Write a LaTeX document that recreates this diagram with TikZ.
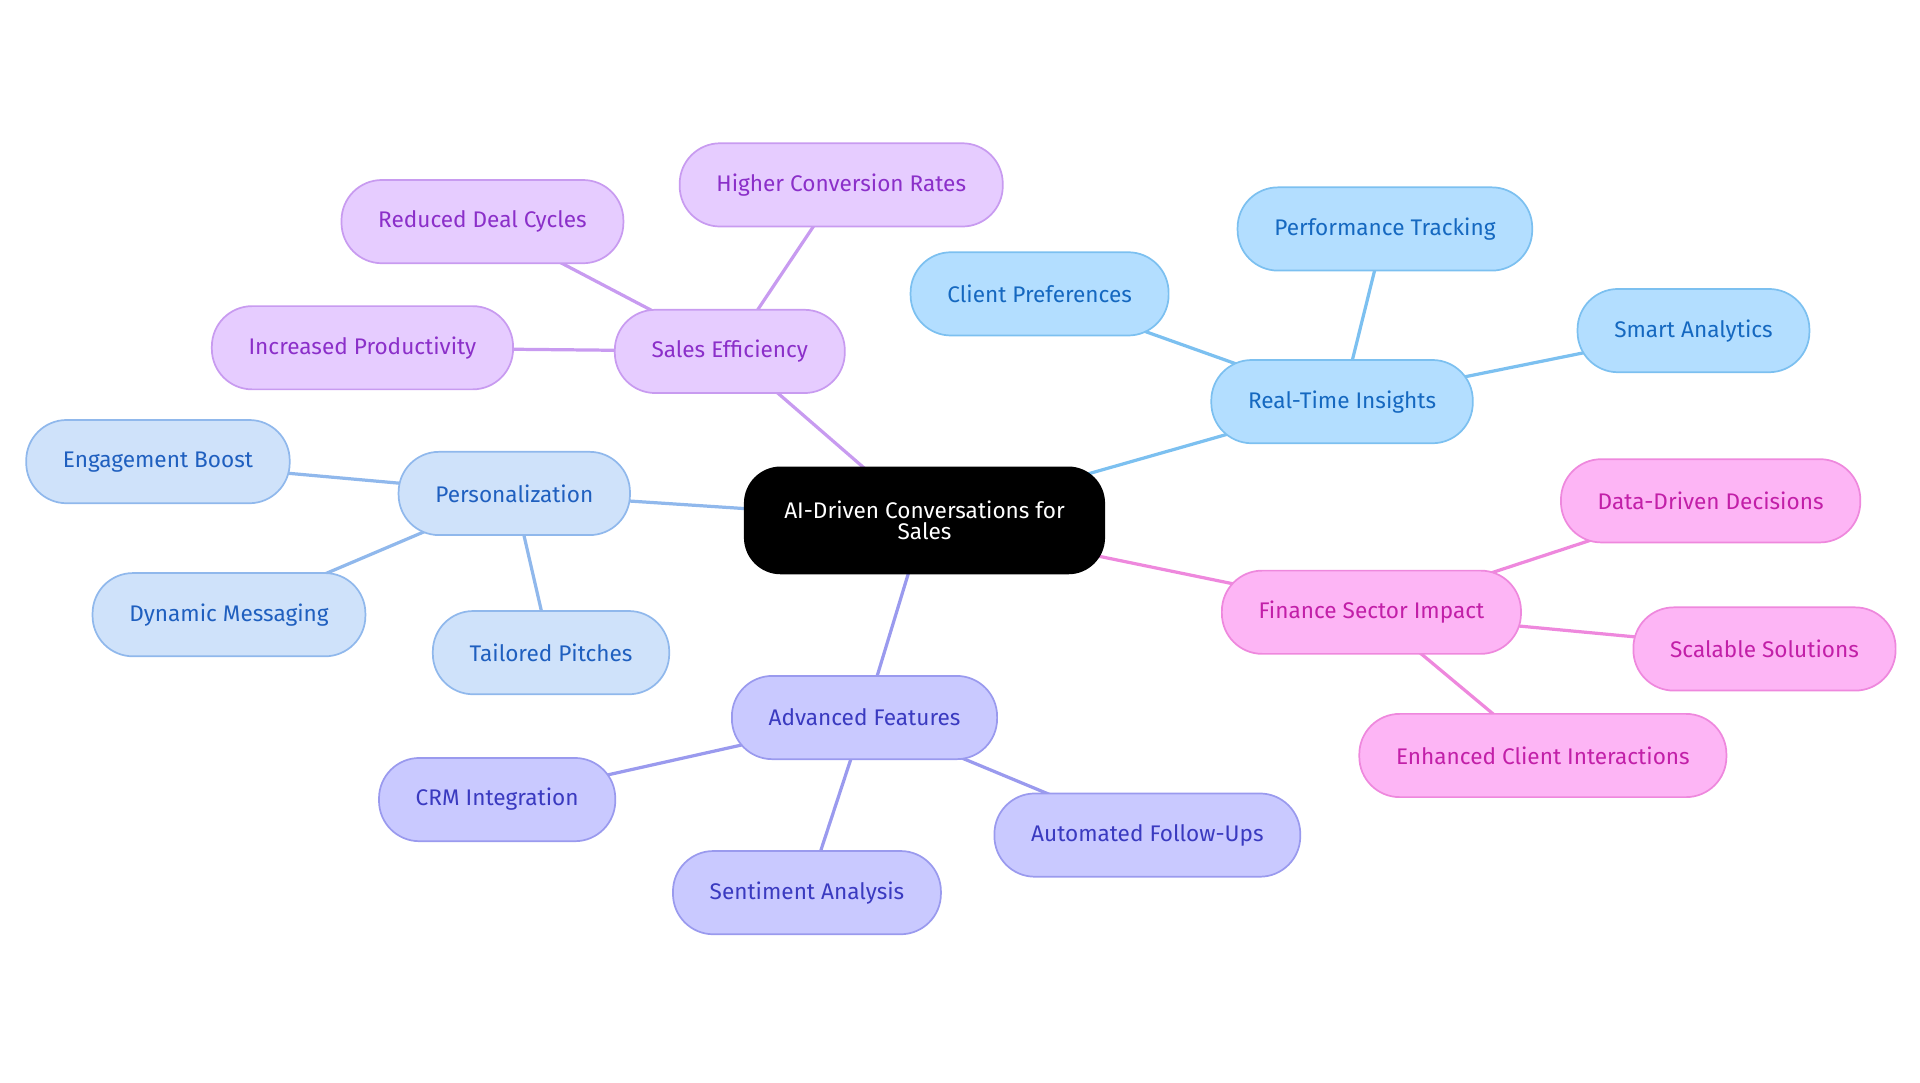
\documentclass[tikz,border=0pt]{standalone}
\usepackage{fontspec}
\setmainfont{Fira Sans}
\usetikzlibrary{backgrounds}
\definecolor{pF}{HTML}{E6CCFF}\definecolor{pD}{HTML}{C89BF0}\definecolor{pT}{HTML}{8B2FC9}
\definecolor{bF}{HTML}{B3DEFF}\definecolor{bD}{HTML}{7CC0F0}\definecolor{bT}{HTML}{1568C0}
\definecolor{lF}{HTML}{CFE2FA}\definecolor{lD}{HTML}{90B8EC}\definecolor{lT}{HTML}{1F5FBF}
\definecolor{vF}{HTML}{C9C9FF}\definecolor{vD}{HTML}{9A9AEE}\definecolor{vT}{HTML}{3A3AC0}
\definecolor{mF}{HTML}{FDB5F5}\definecolor{mD}{HTML}{EE88DD}\definecolor{mT}{HTML}{C21FA8}
\tikzset{
 box/.style={rounded corners=0.66cm,minimum height=1.36cm,inner xsep=0.6cm,font=\fontsize{10.5}{12}\selectfont,line width=0.8pt},
 pur/.style={box,fill=pF,draw=pD,text=pT},
 blu/.style={box,fill=bF,draw=bD,text=bT},
 lbl/.style={box,fill=lF,draw=lD,text=lT},
 vio/.style={box,fill=vF,draw=vD,text=vT},
 mag/.style={box,fill=mF,draw=mD,text=mT},
 ln/.style={line width=1.5pt}
}
\begin{document}
\begin{tikzpicture}[x=0.02cm,y=-0.02cm]
\useasboundingbox (0,0) rectangle (1568,884);
\node[box,fill=black!90!blue!50!black,fill=black,text=white,align=center,minimum width=5.9cm,minimum height=1.76cm,rounded corners=0.6cm] (c) at (755,425) {AI-Driven Conversations for\\[-2pt]Sales};
\node[pur] (se) at (596,287) {Sales Efficiency};
\node[pur] (hc) at (687,151) {Higher Conversion Rates};
\node[pur] (rd) at (394,181) {Reduced Deal Cycles};
\node[pur] (ip) at (296,284) {Increased Productivity};
\node[blu] (rt) at (1096,328) {Real-Time Insights};
\node[blu] (cp) at (849,240) {Client Preferences};
\node[blu] (pt) at (1131,187) {Performance Tracking};
\node[blu] (sa) at (1383,270) {Smart Analytics};
\node[lbl] (pe) at (420,403) {Personalization};
\node[lbl] (eb) at (129,377) {Engagement Boost};
\node[lbl] (dm) at (187,502) {Dynamic Messaging};
\node[lbl] (tp) at (450,533) {Tailored Pitches};
\node[vio] (af) at (706,586) {Advanced Features};
\node[vio] (crm) at (406,653) {CRM Integration};
\node[vio] (sn) at (659,729) {Sentiment Analysis};
\node[vio] (au) at (937,682) {Automated Follow-Ups};
\node[mag] (fs) at (1120,500) {Finance Sector Impact};
\node[mag] (dd) at (1397,409) {Data-Driven Decisions};
\node[mag] (ss) at (1441,530) {Scalable Solutions};
\node[mag] (ec) at (1260,617) {Enhanced Client Interactions};
\begin{scope}[on background layer]
\draw[ln,pD] (c.center)--(se.center) (se.center)--(hc.center) (se.center)--(rd.center) (se.center)--(ip.center);
\draw[ln,bD] (c.center)--(rt.center) (rt.center)--(cp.center) (rt.center)--(pt.center) (rt.center)--(sa.center);
\draw[ln,lD] (c.center)--(pe.center) (pe.center)--(eb.center) (pe.center)--(dm.center) (pe.center)--(tp.center);
\draw[ln,vD] (c.center)--(af.center) (af.center)--(crm.center) (af.center)--(sn.center) (af.center)--(au.center);
\draw[ln,mD] (c.center)--(fs.center) (fs.center)--(dd.center) (fs.center)--(ss.center) (fs.center)--(ec.center);
\end{scope}
\end{tikzpicture}
\end{document}
